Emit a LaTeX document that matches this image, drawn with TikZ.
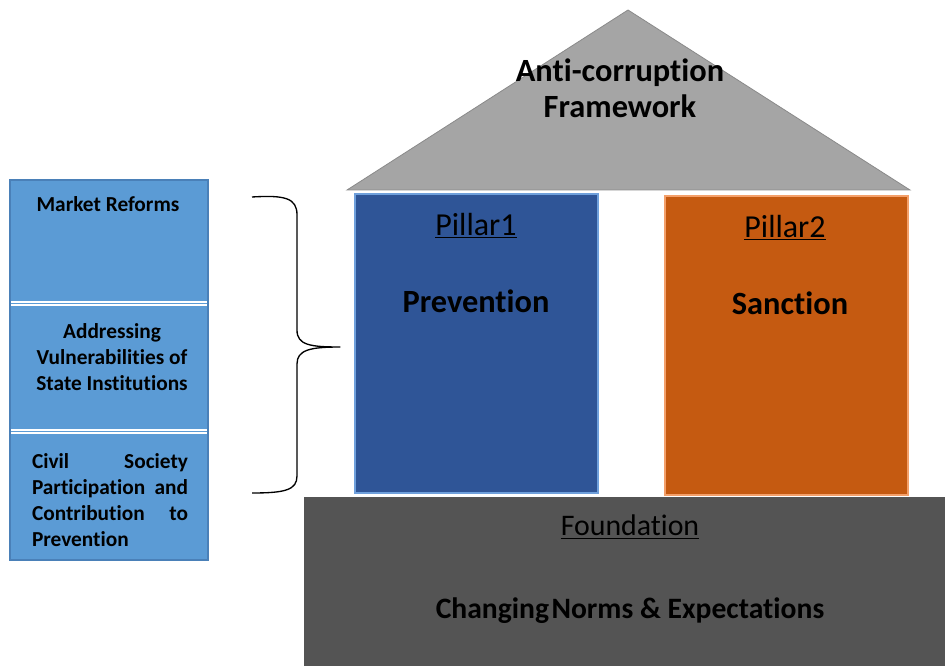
\documentclass[tikz,border=0pt]{standalone}
\usepackage{fontspec}
\setmainfont{Carlito}[RawFeature=-liga]
\definecolor{roofgray}{HTML}{A5A5A5}
\definecolor{roofedge}{HTML}{8A8A8A}
\definecolor{pillblue}{HTML}{2F5597}
\definecolor{pillblueedge}{HTML}{6FA0DC}
\definecolor{pillorange}{HTML}{C55A11}
\definecolor{pillorangeedge}{HTML}{F4A06A}
\definecolor{basegray}{HTML}{545454}
\definecolor{sideblue}{HTML}{5B9BD5}
\definecolor{sideedge}{HTML}{4A80B8}
\begin{document}
\begin{tikzpicture}[x=0.75pt,y=-0.75pt,
  block/.style={anchor=north west, inner sep=0pt, outer sep=0pt},
  bigtxt/.style={inner sep=0pt, font=\fontsize{24pt}{27pt}\selectfont, align=center},
  headtxt/.style={bigtxt, font=\fontsize{24.3pt}{27pt}\bfseries\selectfont},
  sidetxt/.style={inner sep=0pt, font=\fontsize{16pt}{19.3pt}\bfseries\selectfont},
  bracestyle/.style={draw=black, line width=1pt, line join=round}]
\useasboundingbox (0,0) rectangle (945,666);

% roof
\coordinate (apex) at (628,10);
\coordinate (eavesL) at (347,190);
\coordinate (eavesR) at (910,190);
\filldraw[fill=roofgray, draw=roofedge, line width=0.6pt] (apex) -- (eavesR) -- (eavesL) -- cycle;
\node[headtxt] (roof) at (620,88) {Anti-corruption\\Framework};

% pillars
\node[block, fill=pillblue, draw=pillblueedge, line width=0.8pt,
      minimum width=182.25pt, minimum height=224.25pt] (p1) at (355,194) {};
\node[block, fill=pillorange, draw=pillorangeedge, line width=0.8pt,
      minimum width=182.25pt, minimum height=224.25pt] (p2) at (665,196) {};
\node[bigtxt] (p1t) at (476,226) {\underline{Pillar1}};
\node[headtxt] (p1n) at (476,301) {Prevention};
\node[bigtxt] (p2t) at (785,228) {\underline{Pillar2}};
\node[headtxt] (p2n) at (790,303) {Sanction};

% foundation
\node[block, fill=basegray, minimum width=480.75pt, minimum height=127pt] (base) at (304,497) {};
\node[inner sep=0pt, font=\fontsize{22.4pt}{26pt}\selectfont] (baset) at (630,527) {\underline{Foundation}};
\node[inner sep=0pt, font=\fontsize{22.2pt}{26pt}\bfseries\selectfont] (basen) at (630,611) {Changing\hspace{1.8pt}Norms \& Expectations};

% side column
\node[block, fill=sideblue, draw=sideedge, line width=0.8pt,
      minimum width=148.5pt, minimum height=285pt] (side) at (10,180) {};
\foreach \yy in {302,305,430,433}
  \draw[white, line width=1pt] (11,\yy) -- (207,\yy);
\node[sidetxt] (s1) at (108,204) {Market Reforms};
\node[sidetxt, align=center] (s2) at (112,357) {Addressing\\Vulnerabilities of\\State Institutions};
\node[sidetxt, align=left] (s3) at (110,500)
  {\hbox to 117pt{Civil\hfill Society}\\
   \hbox to 117pt{Participation\hfill and}\\
   \hbox to 117pt{Contribution\hfill to}\\
   Prevention};

% brace
\coordinate (bt) at (252,197);
\coordinate (bb) at (252,493);
\coordinate (btip) at (340,347);
\draw[bracestyle] (bt) .. controls (285,195) and (297,198) .. (297,215)
  -- (297,330) .. controls (297,345) and (310,347) .. (btip)
  .. controls (310,347) and (297,350) .. (297,364)
  -- (297,476) .. controls (297,490) and (285,493) .. (bb);
\end{tikzpicture}
\end{document}
